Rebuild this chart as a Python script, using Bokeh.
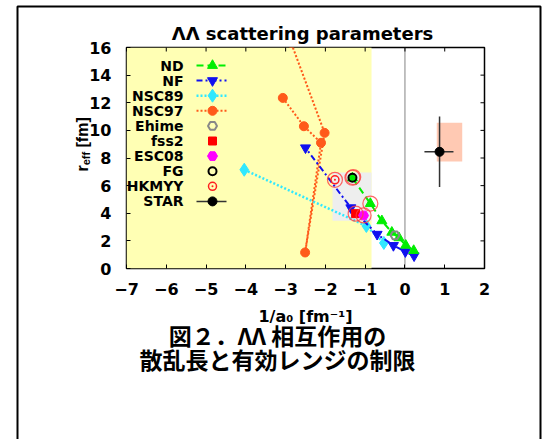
import math
from bokeh.plotting import figure
from bokeh.layouts import column
from bokeh.models import Range1d, SingleIntervalTicker
from bokeh.core.properties import value
from bokeh.embed import file_html
from bokeh.resources import INLINE

# ---------------- data ----------------
x_lim = [-7, 2]
y_lim = [0, 16]
x_ticks = list(range(-7, 3, 1))
y_ticks = list(range(0, 17, 2))

nd_x = [0.22, 0.02, -0.15, -0.33, -0.58, -0.87, -1.32]
nd_y = [1.30, 1.68, 2.22, 2.62, 3.45, 4.70, 6.55]

nf_x = [0.23, 0.01, -0.29, -0.70, -1.36, -2.50]
nf_y = [0.92, 1.22, 1.67, 2.48, 4.40, 8.74]

nsc89_x = [-4.04, -0.97, -0.53]
nsc89_y = [7.15, 3.08, 1.85]

nsc97_x = [-3.07, -2.54, -2.11, -2.51, -2.02, -2.86]
nsc97_y = [12.35, 10.30, 9.10, 1.16, 9.82, 16.33]

ehime_x, ehime_y = [-0.25], [2.40]
fss2_x, fss2_y = [-1.24], [3.97]
esc08_x, esc08_y = [-1.04], [3.84]
fg_x, fg_y = [-1.32], [6.57]
hkmyy_x, hkmyy_y = [-1.76], [6.42]

# models marked with a large ring
ring_x = [-1.76, -1.32, -1.30, -0.87, -1.24, -1.04]
ring_y = [6.42, 6.57, 6.62, 4.70, 3.97, 3.84]

star_x, star_y = [0.87], [8.45]
star_x_lo, star_x_hi = [0.49], [1.22]
star_y_lo, star_y_hi = [5.90], [11.00]
star_sys_x = [0.80, 1.44]
star_sys_y = [7.75, 10.55]

excluded_x = [-7.0, -0.84]          # yellow band
favoured_x = [-1.82, -0.84]          # grey box
favoured_y = [3.45, 6.95]

legend_labels = ["ND", "NF", "NSC89", "NSC97", "Ehime", "fss2", "ESC08", "FG", "HKMYY", "STAR"]

title_text = "ΛΛ scattering parameters"
xlabel_text = "1/a₀ [fm⁻¹]"
ylabel_parts = ["r", "eff", "[fm]"]
caption_lines = ["図２．ΛΛ 相互作用の", "散乱長と有効レンジの制限"]

# ---------------- layout constants (page pixels) ----------------
W, H = 546, 439
FRAME_L, FRAME_R, FRAME_T, FRAME_B = 126, 484, 47, 268
TICK = 4

p = figure(width=W, height=H, title=None,
           x_range=Range1d(*x_lim), y_range=Range1d(*y_lim),
           output_backend="svg", toolbar_location=None,
           min_border_left=FRAME_L, min_border_right=W - FRAME_R,
           min_border_top=FRAME_T, min_border_bottom=H - FRAME_B)
p.frame_align = False
p.grid.visible = False
p.outline_line_color = "black"
p.outline_line_width = 1.5
p.outline_line_alpha = 1.0
p.background_fill_color = "white"
p.border_fill_color = "white"

xt = SingleIntervalTicker(interval=1, num_minor_ticks=0)
yt = SingleIntervalTicker(interval=2, num_minor_ticks=0)

for ax, tk, so in [(p.xaxis[0], xt, 14), (p.yaxis[0], yt, 15)]:
    ax.ticker = tk
    ax.axis_line_color = None
    ax.major_tick_in = TICK
    ax.major_tick_out = 0
    ax.major_tick_line_color = "black"
    ax.minor_tick_line_color = None
    ax.major_label_standoff = so
    ax.major_label_text_font = "DejaVu Sans"
    ax.major_label_text_font_style = "bold"
    ax.major_label_text_font_size = "16px"
    ax.major_label_text_color = "black"

p.xaxis.axis_label = xlabel_text
p.xaxis.axis_label_text_font = "DejaVu Sans"
p.xaxis.axis_label_text_font_style = "bold"
p.xaxis.axis_label_text_font_size = "16px"
p.xaxis.axis_label_standoff = 9
p.xaxis.axis_label_text_color = "black"

# mirrored inward ticks on the top and right edges
ppx = (x_lim[1] - x_lim[0]) / (FRAME_R - FRAME_L)
ppy = (y_lim[1] - y_lim[0]) / (FRAME_B - FRAME_T)
p.segment(x0=x_ticks, y0=[y_lim[1]] * len(x_ticks), x1=x_ticks, y1=[y_lim[1] - TICK * ppy] * len(x_ticks),
          line_color="black", line_width=1, level="overlay")
p.segment(x0=[x_lim[1]] * len(y_ticks), y0=y_ticks, x1=[x_lim[1] - TICK * ppx] * len(y_ticks), y1=y_ticks,
          line_color="black", line_width=1, level="overlay")

# background regions
p.quad(left=[excluded_x[0]], right=[excluded_x[1]], bottom=[y_lim[0]], top=[y_lim[1]],
       fill_color="#ffffb4", line_color=None)
p.quad(left=[favoured_x[0]], right=[favoured_x[1]], bottom=[favoured_y[0]], top=[favoured_y[1]],
       fill_color="#eeeeee", line_color=None)
p.quad(left=[star_sys_x[0]], right=[star_sys_x[1]], bottom=[star_sys_y[0]], top=[star_sys_y[1]],
       fill_color="#ffc9b3", line_color=None)
p.line([0, 0], y_lim, line_color="#333333", line_width=1.2, line_dash="1 1")

# series styles
C_ND, C_NF, C_89, C_97 = "#00ee00", "#1010f0", "#30e8ff", "#ff5a1a"
D_ND, D_NF, D_89, D_97 = "7 4", "6 3 2 3", "2 2", "2 2"

p.line(nsc97_x, nsc97_y, line_color=C_97, line_width=2, line_dash=D_97)
p.scatter(nsc97_x, nsc97_y, marker="circle", size=9, fill_color=C_97, line_color=C_97)
p.line(nsc89_x, nsc89_y, line_color=C_89, line_width=2.5, line_dash=D_89)
p.scatter(nsc89_x, nsc89_y, marker="diamond", size=13, fill_color=C_89, line_color=C_89)
p.line(nf_x, nf_y, line_color=C_NF, line_width=2, line_dash=D_NF)
p.scatter(nf_x, nf_y, marker="inverted_triangle", size=10, fill_color=C_NF, line_color=C_NF)
p.line(nd_x, nd_y, line_color=C_ND, line_width=2, line_dash=D_ND)
p.scatter(nd_x, nd_y, marker="triangle", size=10, fill_color=C_ND, line_color=C_ND)
p.scatter(ehime_x, ehime_y, marker="hex", size=9, fill_color=None, line_color="#888888", line_width=2)
p.scatter(fss2_x, fss2_y, marker="square", size=8, fill_color="#ff0000", line_color="#ff0000")
p.scatter(esc08_x, esc08_y, marker="hex", size=10, fill_color="#ff00ff", line_color="#ff00ff")
p.scatter(fg_x, fg_y, marker="circle", size=8, fill_color=None, line_color="black", line_width=2)
p.scatter(hkmyy_x, hkmyy_y, marker="circle_dot", size=8, fill_color=None, line_color="#ff2020", line_width=1.5)
p.scatter(ring_x, ring_y, marker="circle", size=15, fill_color=None, line_color="#ff4040",
          line_width=1.2, line_alpha=0.8)

p.segment(x0=star_x_lo, y0=star_y, x1=star_x_hi, y1=star_y, line_color="#333333", line_width=1.5)
p.segment(x0=star_x, y0=star_y_lo, x1=star_x, y1=star_y_hi, line_color="#333333", line_width=1.5)
p.scatter(star_x, star_y, marker="circle", size=9, fill_color="black", line_color="black")

# ---------------- legend (gnuplot style: label left, sample right) ----------------
def dx(px):
    return x_lim[0] + (px - FRAME_L) * ppx

def dy(py):
    return y_lim[0] + (FRAME_B - py) * ppy

LEG_TEXT_X, LEG_SYM_X, LEG_L0, LEG_L1 = 183, 212, 196, 226
LEG_Y0, LEG_DY = 65, 15.1
rows = [dy(LEG_Y0 + i * LEG_DY) for i in range(len(legend_labels))]
p.text(x=[dx(LEG_TEXT_X)] * len(legend_labels), y=rows, text=legend_labels,
       text_font=value("DejaVu Sans"), text_font_style="bold", text_font_size="14px",
       text_align="right", text_baseline="middle", text_color="black")

lx = [dx(LEG_L0), dx(LEG_L1)]
sx = [dx(LEG_SYM_X)]
p.line(lx, [rows[0]] * 2, line_color=C_ND, line_width=2, line_dash=D_ND)
p.scatter(sx, [rows[0]], marker="triangle", size=10, fill_color=C_ND, line_color=C_ND)
p.line(lx, [rows[1]] * 2, line_color=C_NF, line_width=2, line_dash=D_NF)
p.scatter(sx, [rows[1]], marker="inverted_triangle", size=10, fill_color=C_NF, line_color=C_NF)
p.line(lx, [rows[2]] * 2, line_color=C_89, line_width=2.5, line_dash=D_89)
p.scatter(sx, [rows[2]], marker="diamond", size=13, fill_color=C_89, line_color=C_89)
p.line(lx, [rows[3]] * 2, line_color=C_97, line_width=2, line_dash=D_97)
p.scatter(sx, [rows[3]], marker="circle", size=9, fill_color=C_97, line_color=C_97)
p.scatter(sx, [rows[4]], marker="hex", size=9, fill_color=None, line_color="#888888", line_width=2)
p.scatter(sx, [rows[5]], marker="square", size=8, fill_color="#ff0000", line_color="#ff0000")
p.scatter(sx, [rows[6]], marker="hex", size=10, fill_color="#ff00ff", line_color="#ff00ff")
p.scatter(sx, [rows[7]], marker="circle", size=8, fill_color=None, line_color="black", line_width=2)
p.scatter(sx, [rows[8]], marker="circle_dot", size=8, fill_color=None, line_color="#ff2020", line_width=1.5)
p.line(lx, [rows[9]] * 2, line_color="#333333", line_width=1.5)
p.scatter(sx, [rows[9]], marker="circle", size=9, fill_color="black", line_color="black")

# ---------------- transparent overlay for the texts around the chart ----------------
ov = figure(width=W, height=H, title=None, x_range=Range1d(0, W), y_range=Range1d(0, H),
            x_axis_type=None, y_axis_type=None, output_backend="svg", toolbar_location=None,
            min_border=0, min_border_left=0, min_border_right=0, min_border_top=0, min_border_bottom=0)
ov.frame_align = False
ov.outline_line_color = None
ov.background_fill_color = None
ov.border_fill_color = None
ov.grid.visible = False
ov.styles = {"position": "absolute", "left": "0px", "top": "0px"}

def oy(py):
    return H - py

def otext(t, px, py, size, font, align="center", baseline="middle", angle=0.0):
    ov.text(x=[px], y=[oy(py)], text=[t], text_font=value(font), text_font_style="bold",
            text_font_size=f"{size}px", text_align=align, text_baseline=baseline,
            angle=angle, text_color="black")

otext(title_text, 302, 33, 18, "DejaVu Sans")
# rotated y label  r_eff [fm]  (Liberation Sans Bold 16px, subscript 11px)
otext(ylabel_parts[0], 82, 171, 16, "Liberation Sans", "left", "alphabetic", math.pi / 2)
otext(ylabel_parts[1], 85, 164.8, 11, "Liberation Sans", "left", "alphabetic", math.pi / 2)
otext(ylabel_parts[2], 82, 147, 16, "Liberation Sans", "left", "alphabetic", math.pi / 2)
otext(caption_lines[0], 277, 334, 23, "Noto Sans CJK JP")
otext(caption_lines[1], 277, 358, 23, "Noto Sans CJK JP")

# outer panel border (left, top, right; bottom is outside the window)
ov.line(x=[17, 17, 540, 540], y=[oy(460), oy(6), oy(6), oy(460)], line_color="black", line_width=2)

layout = column(p, ov, spacing=0)
open("out.html", "w").write(file_html(layout, INLINE))
